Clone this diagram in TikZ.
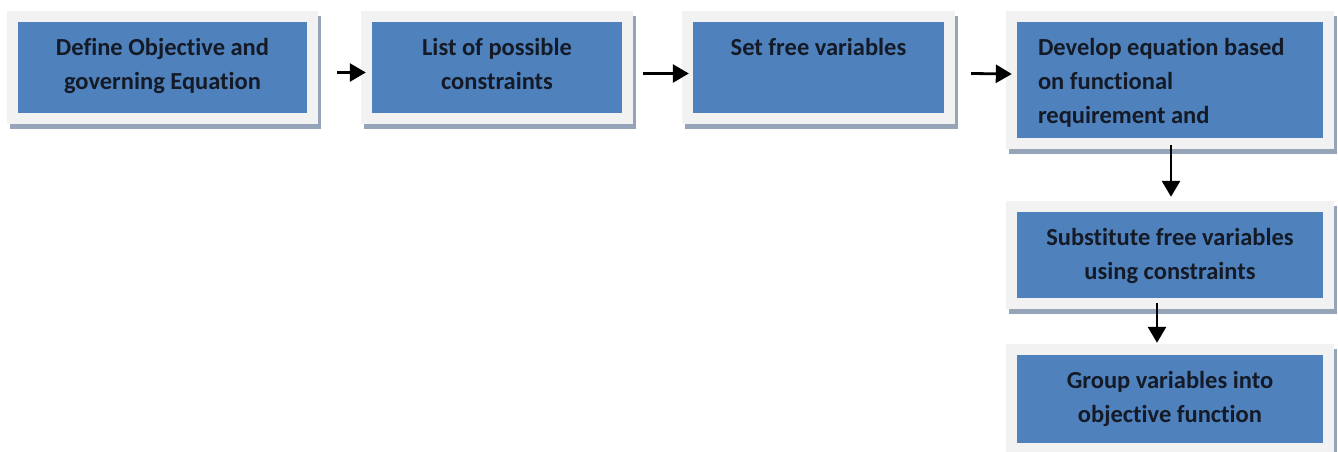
\documentclass[tikz,border=0pt]{standalone}
\usepackage{fontspec}
\setmainfont{Carlito}[Ligatures={NoCommon}]
\usetikzlibrary{arrows.meta}
\definecolor{boxblue}{HTML}{4F81BD}
\definecolor{framegray}{HTML}{F2F2F2}
\definecolor{shadowcol}{HTML}{95A4B8}
\definecolor{txt}{HTML}{141A26}
\tikzset{
  bluebox/.style={rectangle, fill=boxblue, inner sep=0pt, line join=miter,
    preaction={draw=shadowcol, fill=shadowcol, line width=22pt, transform canvas={shift={(3pt,-5pt)}}},
    preaction={draw=framegray, line width=22pt}},
  boxtext/.style={anchor=north, inner sep=0pt, text=txt, font=\fontsize{24.5}{34}\selectfont\bfseries, align=center},
  arr/.style={line width=2.8pt, -{Triangle[length=16pt,width=18pt]}}
}
\begin{document}
\begin{tikzpicture}[x=1pt,y=-1pt]
\useasboundingbox (0,0) rectangle (1338,452);
\node[bluebox, minimum width=289pt, minimum height=91pt] (b1) at (162.5,67.5) {};
\node[bluebox, minimum width=250pt, minimum height=91pt] (b2) at (497,67.5) {};
\node[bluebox, minimum width=251pt, minimum height=91pt] (b3) at (818.5,67.5) {};
\node[bluebox, minimum width=306pt, minimum height=116pt] (b4) at (1170,80) {};
\node[bluebox, minimum width=306pt, minimum height=86pt] (b5) at (1170,255) {};
\node[bluebox, minimum width=306pt, minimum height=88pt] (b6) at (1170,399) {};
\node[boxtext] (t1) at ([yshift=-16pt]b1.north) {Define Objective and\\governing Equation};
\node[boxtext] (t2) at ([yshift=-16pt]b2.north) {List of possible\\constraints};
\node[boxtext] (t3) at ([yshift=-16pt]b3.north) {Set free variables};
\node[boxtext, anchor=north west, align=left] (t4) at ([xshift=21pt,yshift=-16pt]b4.north west) {Develop equation based\\on functional\\requirement and};
\node[boxtext] (t5) at ([yshift=-16pt]b5.north) {Substitute free variables\\using constraints};
\node[boxtext] (t6) at ([yshift=-16pt]b6.north) {Group variables into\\objective function};
\draw[arr] ([xshift=30pt,yshift=-5pt]b1.east) -- ([xshift=-6pt,yshift=-5pt]b2.west);
\draw[arr] ([xshift=21pt,yshift=-6pt]b2.east) -- ([xshift=-4pt,yshift=-6pt]b3.west);
\draw[arr] ([xshift=27pt,yshift=-6pt]b3.east) -- ([xshift=-5pt,yshift=6pt]b4.west);
\draw[arr] ([xshift=1pt,yshift=-7pt]b4.south) -- ([xshift=1pt,yshift=15pt]b5.north);
\draw[arr] ([xshift=-13pt,yshift=-5pt]b5.south) -- ([xshift=-13pt,yshift=12pt]b6.north);
\end{tikzpicture}
\end{document}
